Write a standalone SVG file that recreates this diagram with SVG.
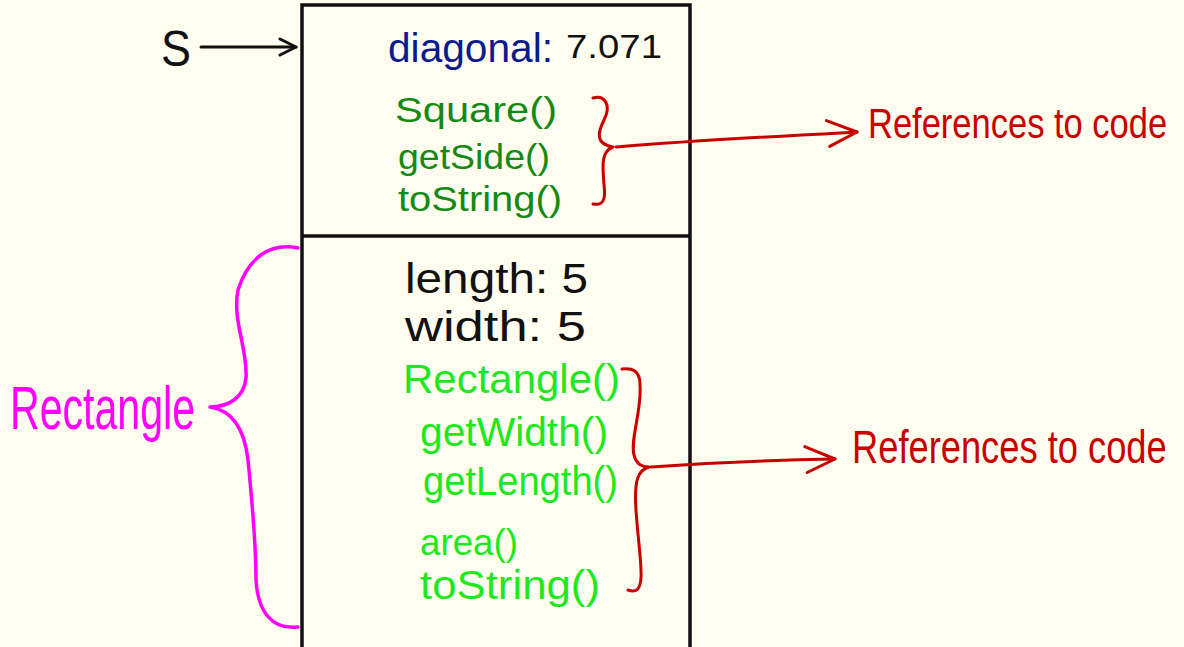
<svg xmlns="http://www.w3.org/2000/svg" width="1184" height="647" viewBox="0 0 1184 647">
  <defs>
    <style>
      .hand { font-family: "Liberation Sans", "DejaVu Sans", sans-serif; }
      .ink { fill: none; stroke-linecap: round; stroke-linejoin: round; }
      .black { fill: #111111; }
      .navy { fill: #0b1a8e; }
      .dgreen { fill: #148a14; }
      .lgreen { fill: #1ee81e; }
      .red { fill: #c80000; }
      .magenta { fill: #ff00ff; }
    </style>
    <marker id="headBlack" viewBox="0 0 20 20" refX="18" refY="10" markerWidth="20" markerHeight="20" markerUnits="userSpaceOnUse" orient="auto">
      <path d="M2 2 L18 10 L2 18" fill="none" stroke="#111" stroke-width="3" stroke-linecap="round" stroke-linejoin="round"/>
    </marker>
    <marker id="headRed" viewBox="0 0 36 36" refX="33" refY="18" markerWidth="36" markerHeight="36" markerUnits="userSpaceOnUse" orient="auto">
      <path d="M3 5 L33 18 L5 31" fill="none" stroke="#c80000" stroke-width="3" stroke-linecap="round" stroke-linejoin="round"/>
    </marker>
  </defs>

  <rect width="1184" height="647" fill="#fffdef"/>

  <!-- object box for s: Square part on top, Rectangle part below -->
  <g id="object-box">
    <rect x="302" y="5" width="388" height="665" fill="none" stroke="#111" stroke-width="3.5"/>
    <line x1="302" y1="236" x2="690" y2="236" stroke="#111" stroke-width="3.5"/>
  </g>

  <g id="variable-s">
    <text class="hand black" x="161" y="66" font-size="50" textLength="30" lengthAdjust="spacingAndGlyphs">S</text>
  </g>

  <g id="square-part">
    <text class="hand navy" x="388" y="62" font-size="40" textLength="165" lengthAdjust="spacingAndGlyphs">diagonal:</text>
    <text class="hand black" x="566" y="58" font-size="34" textLength="96" lengthAdjust="spacingAndGlyphs">7.071</text>
    <text class="hand dgreen" x="395" y="122" font-size="35" textLength="162" lengthAdjust="spacingAndGlyphs">Square()</text>
    <text class="hand dgreen" x="398" y="169" font-size="35" textLength="152" lengthAdjust="spacingAndGlyphs">getSide()</text>
    <text class="hand dgreen" x="398" y="211" font-size="35" textLength="164" lengthAdjust="spacingAndGlyphs">toString()</text>
  </g>

  <g id="rectangle-part">
    <text class="hand black" x="405" y="293" font-size="42" textLength="183" lengthAdjust="spacingAndGlyphs">length: 5</text>
    <text class="hand black" x="405" y="341" font-size="42" textLength="181" lengthAdjust="spacingAndGlyphs">width: 5</text>
    <text class="hand lgreen" x="403" y="393" font-size="40" textLength="217" lengthAdjust="spacingAndGlyphs">Rectangle()</text>
    <text class="hand lgreen" x="420" y="446" font-size="40" textLength="188" lengthAdjust="spacingAndGlyphs">getWidth()</text>
    <text class="hand lgreen" x="423" y="495" font-size="40" textLength="195" lengthAdjust="spacingAndGlyphs">getLength()</text>
    <text class="hand lgreen" x="420" y="555" font-size="36" textLength="98" lengthAdjust="spacingAndGlyphs">area()</text>
    <text class="hand lgreen" x="420" y="599" font-size="40" textLength="180" lengthAdjust="spacingAndGlyphs">toString()</text>
  </g>

  <g id="rectangle-label">
    <path class="ink" stroke="#ff00ff" stroke-width="3.5" d="M298 248 C270 242 248 258 238 290 C232 320 248 350 246 378 C244 398 228 407 210 407 C230 410 244 425 248 460 C252 500 256 540 256 580 C258 612 272 630 298 627"/>
    <text class="hand magenta" x="10" y="429" font-size="62" textLength="185" lengthAdjust="spacingAndGlyphs">Rectangle</text>
  </g>

  <g id="square-methods-note">
    <path class="ink" stroke="#c80000" stroke-width="3" d="M593 98 C604 95 612 104 604 120 C597 134 596 144 613 147 C600 152 603 168 604 185 C606 200 603 206 593 204"/>
    <text class="hand red" transform="translate(868 138) scale(1 1.25)" font-size="34.5">References to code</text>
  </g>

  <g id="rectangle-methods-note">
    <path class="ink" stroke="#c80000" stroke-width="3" d="M622 369 C632 368 640 370 640 385 C642 410 630 440 634 455 C636 464 642 467 649 467 C638 470 634 480 636 510 C638 540 642 565 641 578 C640 590 636 593 628 590"/>
    <text class="hand red" transform="translate(852 463) scale(1 1.25)" font-size="36.3">References to code</text>
  </g>

  <!-- connectors -->
  <g id="connectors">
    <path class="ink" stroke="#111" stroke-width="3" d="M201 47 L296 47" marker-end="url(#headBlack)"/>
    <path class="ink" stroke="#c80000" stroke-width="3" d="M616 147 C700 140 780 136 857 132" marker-end="url(#headRed)"/>
    <path class="ink" stroke="#c80000" stroke-width="3" d="M651 467 C720 462 780 460 835 459" marker-end="url(#headRed)"/>
  </g>
</svg>
